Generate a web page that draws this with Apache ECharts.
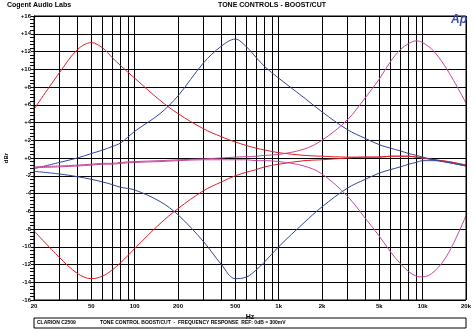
<!DOCTYPE html>
<html>
<head>
<meta charset="utf-8">
<script src="https://cdn.jsdelivr.net/npm/echarts@6/dist/echarts.min.js"></script>
<style>
  html, body { margin: 0; padding: 0; background: #fff; }
  #chart { width: 475px; height: 332px; }
</style>
</head>
<body>
<div id="chart"></div>
<script>
// Measurement frequencies (Hz)
const freqs = [20, 30, 40, 50, 60, 70, 80, 100, 150, 200, 300, 400, 500, 600, 700, 800,
  1000, 1500, 2000, 3000, 4000, 5000, 6000, 7000, 8000, 9000, 10000, 12000, 15000, 20000];

// Response curves in dBr, one value per frequency above
const bassBoost = [5.5, 9.6, 12.2, 13.0, 12.4, 11.3, 10.4, 9.0, 6.5, 5.0, 3.3, 2.4, 1.8, 1.4, 1.1, 0.9,
  0.6, 0.3, 0.2, 0.1, 0.1, 0.1, 0.2, 0.2, 0.2, 0.1, 0.0, -0.2, -0.4, -0.8];
const bassCut = [-8.2, -11.2, -13.0, -13.6, -13.3, -12.6, -11.8, -10.2, -7.4, -5.7, -3.7, -2.7, -2.0, -1.6, -1.3, -1.0,
  -0.7, -0.3, -0.2, 0.0, 0.1, 0.1, 0.2, 0.2, 0.2, 0.1, 0.0, -0.2, -0.4, -0.8];
const midBoost = [-1.2, -0.5, 0.0, 0.5, 0.9, 1.3, 1.7, 3.0, 5.0, 7.0, 10.7, 12.6, 13.4, 12.5, 11.3, 10.3,
  9.0, 6.8, 5.2, 3.2, 2.2, 1.5, 1.1, 0.8, 0.5, 0.3, 0.1, -0.2, -0.5, -0.9];
const midCut = [-1.5, -1.8, -2.1, -2.4, -2.7, -3.0, -3.3, -3.6, -4.9, -6.4, -9.4, -12.0, -13.6, -13.4, -12.6, -11.7,
  -10.0, -7.3, -5.5, -3.4, -2.4, -1.7, -1.3, -1.0, -0.7, -0.5, -0.3, -0.3, -0.5, -0.9];
const trebleBoost = [-1.0, -0.9, -0.8, -0.7, -0.6, -0.6, -0.5, -0.4, -0.3, -0.2, -0.1, 0.0, 0.1, 0.15, 0.2, 0.3,
  0.4, 1.0, 2.0, 4.3, 6.8, 8.9, 10.9, 12.2, 12.9, 13.2, 13.0, 12.0, 9.8, 6.2];
const trebleCut = [-1.1, -1.0, -0.9, -0.8, -0.7, -0.7, -0.6, -0.5, -0.4, -0.3, -0.2, -0.2, -0.2, -0.2, -0.3, -0.3,
  -0.4, -0.9, -1.8, -4.3, -6.8, -8.8, -10.6, -11.9, -12.8, -13.3, -13.4, -12.8, -10.8, -6.5];

// Axis ticks and labels
const gridFreqs = [20, 30, 40, 50, 60, 70, 80, 90, 100, 200, 300, 400, 500, 600, 700, 800, 900,
  1000, 2000, 3000, 4000, 5000, 6000, 7000, 8000, 9000, 10000, 20000];
const labelFreqs = [20, 50, 100, 200, 500, 1000, 2000, 5000, 10000, 20000];
const yMin = -16, yMax = 16, yStep = 2;

const FONT = '"Liberation Sans", Arial, sans-serif';

function pairs(vals) {
  return freqs.map((f, i) => [f, vals[i]]);
}

function curve(name, vals, color) {
  return {
    name: name,
    type: 'line',
    data: pairs(vals),
    smooth: 0.35,
    showSymbol: false,
    silent: true,
    lineStyle: { color: color, width: 1 },
    z: 5
  };
}

const chart = echarts.init(document.getElementById('chart'), null, { renderer: 'canvas' });

chart.setOption({
  animation: false,
  backgroundColor: '#ffffff',
  grid: { left: 34, top: 16, width: 432, height: 284, show: false },
  xAxis: {
    type: 'log',
    logBase: 10,
    min: 20,
    max: 20000,
    name: 'Hz',
    nameLocation: 'middle',
    nameGap: 12,
    nameTextStyle: { fontFamily: FONT, fontWeight: 'bold', fontSize: 7, color: '#000' },
    axisLine: { show: true, lineStyle: { color: '#000', width: 1 } },
    axisTick: { show: false, customValues: gridFreqs },
    axisLabel: {
      customValues: labelFreqs,
      fontFamily: FONT, fontWeight: 'bold', fontSize: 6, color: '#000', margin: 3,
      formatter: v => v >= 1000 ? (v / 1000) + 'k' : String(v)
    },
    splitLine: { show: true, lineStyle: { color: '#000', width: 1 } },
    minorSplitLine: { show: false }
  },
  yAxis: {
    type: 'value',
    min: yMin,
    max: yMax,
    interval: yStep,
    axisLine: { show: true, lineStyle: { color: '#000', width: 1 } },
    axisTick: { show: true, length: 3, lineStyle: { color: '#000' } },
    minorTick: { show: true, splitNumber: 5, length: 4, lineStyle: { color: '#000' } },
    axisLabel: {
      fontFamily: FONT, fontWeight: 'bold', fontSize: 6, color: '#000', margin: 3,
      formatter: v => v >= 0 ? '+' + v : String(v)
    },
    splitLine: { show: true, lineStyle: { color: '#000', width: 1 } }
  },
  graphic: [
    { type: 'rect', shape: { x: 34, y: 16, width: 432, height: 284 }, style: { fill: null, stroke: '#000', lineWidth: 1 }, z: 10, silent: true },
    { type: 'text', left: 7, top: 2, style: { text: 'Cogent Audio Labs', font: 'bold 7px ' + FONT, fill: '#000' } },
    { type: 'text', left: 218, top: 2, style: { text: 'TONE CONTROLS - BOOST/CUT', font: 'bold 7px ' + FONT, fill: '#000' } },
    { type: 'text', x: 451, y: 14, z: 20, style: { text: 'Ap', font: 'italic bold 12px ' + FONT, fill: '#3a4db0' } },
    { type: 'text', x: 6, y: 158, rotation: Math.PI / 2, style: { text: 'dBr', font: 'bold 6px ' + FONT, fill: '#000', align: 'center', verticalAlign: 'middle' } },
    { type: 'rect', shape: { x: 34, y: 318, width: 432, height: 10 }, style: { fill: '#fff', stroke: '#000', lineWidth: 1 } },
    { type: 'text', left: 37, top: 320, style: { text: 'CLARION C2509', font: 'bold 5px ' + FONT, fill: '#000' } },
    { type: 'text', left: 100, top: 320, style: { text: 'TONE CONTROL BOOST/CUT  -  FREQUENCY RESPONSE  REF: 0dB = 300mV', font: 'bold 5px ' + FONT, fill: '#000' } }
  ],
  series: [
    curve('Bass boost', bassBoost, '#e0202a'),
    curve('Bass cut', bassCut, '#e0202a'),
    curve('Mid boost', midBoost, '#34459c'),
    curve('Mid cut', midCut, '#34459c'),
    curve('Treble boost', trebleBoost, '#c8469e'),
    curve('Treble cut', trebleCut, '#c8469e')
  ]
});
</script>
</body>
</html>
